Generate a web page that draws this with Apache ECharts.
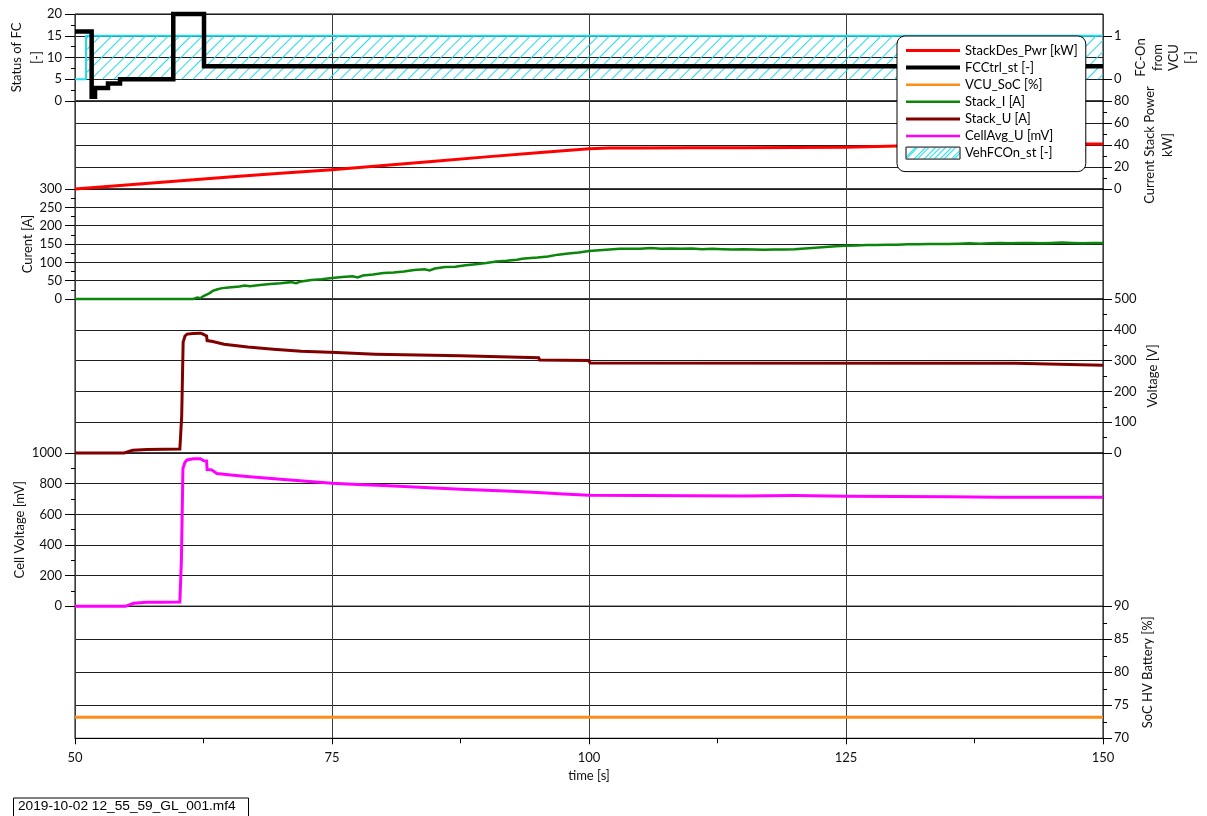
<!DOCTYPE html>
<html><head><meta charset="utf-8">
<script src="https://cdn.jsdelivr.net/npm/echarts@6/dist/echarts.min.js"></script>
<style>html,body{margin:0;padding:0;background:#fff}#c{width:1207px;height:816px}</style>
</head><body><div id="c"></div>
<script>
// ---------------- data ----------------
const timeRange = [50, 150];
const timeTicks = [50, 75, 100, 125, 150];

const fcTime = [50, 51.62, 51.95, 53.21, 54.38, 59.56, 62.55, 150];
const fcVal  = [16, 1, 3, 4, 5, 20, 8, 8];

const vehTime = [50, 51.07, 150];
const vehVal  = [0, 1, 1];

const pwrTime = [50, 55, 60, 65, 70, 75, 80, 85, 90, 95, 100, 102, 105, 110, 115, 120, 125, 130, 135, 140, 145, 150];
const pwrVal  = [0, 3.6, 7.3, 10.9, 14.4, 17.6, 21.4, 25.2, 29.2, 33.0, 36.6, 37.2, 37.3, 37.4, 37.5, 37.7, 38.0, 39.0, 39.8, 40.4, 40.8, 41.0];

const curTime = [50, 61.5, 61.9, 62.2, 62.5, 62.8, 63.1, 63.4, 63.8, 64.2, 64.7, 65.2, 66, 66.5, 67, 68, 69, 70, 71, 71.5, 72, 73, 74, 75, 76, 77, 77.5, 78, 79, 80, 81, 82, 83, 84, 84.5, 85, 86, 87, 88, 89, 90, 91, 92, 93, 93.5, 94, 95, 96, 97, 98, 99, 100, 101, 102, 103, 104, 105, 106, 107, 108, 109, 110, 111, 112, 113, 114, 115, 116, 117, 118, 119, 120, 121, 122, 123, 124, 125, 126, 127, 128, 129, 130, 131, 132, 133, 134, 135, 136, 137, 138, 139, 140, 141, 142, 143, 144, 145, 146, 147, 148, 149, 150];
const curVal  = [0, 0, 4, 2, 8, 12, 16, 22, 26, 29, 31, 32, 34, 37, 35, 38, 41, 43, 46, 43, 48, 52, 54, 57, 60, 62, 59, 64, 67, 71, 72, 75, 79, 81, 78, 83, 87, 88, 92, 95, 98, 102, 104, 107, 110, 111, 113, 116, 121, 124, 127, 131, 133, 135, 137, 137, 137, 139, 137, 138, 137, 138, 136, 137, 136, 135, 136, 135, 134, 135, 135, 136, 138, 140, 142, 144, 145, 146, 147, 147, 148, 148, 149, 149, 150, 150, 150, 151, 152, 151, 152, 153, 152, 153, 153, 152, 153, 154, 153, 152, 153, 153];

const uTime = [50, 54.8, 55.6, 57.0, 60.2, 60.38, 60.52, 60.7, 60.9, 61.5, 62.2, 62.4, 62.5, 62.8, 62.85, 63.4, 63.5, 64.5, 64.6, 66.8, 66.9, 69.3, 69.4, 72.0, 72.1, 75.4, 75.5, 79.2, 79.3, 87.5, 87.6, 95.1, 95.2, 100.0, 100.1, 141.5, 141.6, 150];
const uVal  = [0, 0, 9, 11, 13, 120, 360, 380, 386, 388, 389, 387, 382, 380, 365, 362, 356, 353, 347, 344, 339, 337, 331, 330, 327, 326, 322, 321, 318, 316, 311, 309, 302, 300, 292, 291, 285, 285];

const cellTime = [50, 54.9, 55.7, 57.0, 58.5, 60.2, 60.35, 60.5, 60.7, 60.9, 61.5, 62.2, 62.5, 62.8, 62.85, 63.3, 63.8, 65.4, 67, 70, 72.5, 75, 77.5, 80, 82.5, 85, 87.5, 90, 92.5, 95, 97.5, 100, 105, 110, 115, 120, 125, 130, 135, 140, 145, 150];
const cellVal  = [0, 0, 20, 26, 27, 28, 300, 900, 940, 955, 962, 963, 950, 948, 892, 890, 866, 855, 845, 828, 815, 803, 795, 788, 780, 772, 764, 757, 750, 742, 733, 725, 722, 721, 720, 722, 718, 716, 714, 712, 711, 712];

const socTime = [50, 100, 150];
const socVal  = [73.2, 73.2, 73.2];

const seriesNames = ['StackDes_Pwr [kW]', 'FCCtrl_st [-]', 'VCU_SoC [%]', 'Stack_I [A]', 'Stack_U [A]', 'CellAvg_U [mV]', 'VehFCOn_st [-]'];
const fcOnLabels = [0, 1];
const footerText = '2019-10-02 12_55_59_GL_001.mf4';

// ---------------- helpers ----------------
const pairs = (t, v) => t.map((x, i) => [x, v[i]]);
const FONT = 'Lato';
const AXC = '#000';
const CYAN = '#1fdcee';
const seriesColors = ['#ff0000', '#000000', '#ff8c1a', '#0a860a', '#800000', '#ff00ff', CYAN];
const legendWidths = [3, 4, 2.5, 2.5, 3, 2.5, 1];

const hatchDecal = {
  symbol: 'rect', symbolSize: 1, symbolKeepAspect: false,
  color: CYAN, backgroundColor: 'rgba(255,255,255,0)',
  dashArrayX: [1, 0], dashArrayY: [1, 6.5], rotation: -Math.PI / 4
};

const svgHatch = 'data:image/svg+xml;utf8,' + encodeURIComponent(
  '<svg xmlns="http://www.w3.org/2000/svg" width="10" height="10">' +
  '<path d="M0 10 L10 0 M-2 2 L2 -2 M8 12 L12 8" stroke="' + CYAN + '" stroke-width="1.2"/></svg>');

const bands = [
  { top: 14, height: 87 },
  { top: 101, height: 88 },
  { top: 189, height: 110 },
  { top: 299, height: 154 },
  { top: 453, height: 153.3 },
  { top: 606.3, height: 132 }
];

const grid = bands.map(b => ({
  left: 75, right: 104, top: b.top, height: b.height,
  show: true, borderColor: '#000', borderWidth: 1, backgroundColor: 'transparent',
  containLabel: false, outerBoundsMode: 'none'
}));

const xAxis = bands.map((b, i) => {
  const last = i === bands.length - 1;
  return {
    type: 'value', gridIndex: i, min: timeRange[0], max: timeRange[1], interval: 25,
    axisLine: { show: last, lineStyle: { color: AXC, width: 1 } },
    axisTick: { show: last, length: 6, lineStyle: { color: AXC } },
    minorTick: { show: last, splitNumber: 2, length: 5, lineStyle: { color: AXC } },
    axisLabel: { show: last, margin: 13, fontFamily: FONT, fontSize: 13, color: '#111',
      customValues: timeTicks },
    splitLine: { show: true, lineStyle: { color: '#3c3c3c', width: 1 } },
    minorSplitLine: { show: false },
    name: last ? 'time [s]' : '', nameLocation: 'middle', nameGap: 31,
    nameTextStyle: { fontFamily: FONT, fontSize: 13, color: '#111' }
  };
});

function yAx(o) {
  return Object.assign({
    type: 'value', position: 'left', nameLocation: 'middle', nameRotate: 90,
    nameMoveOverlap: false,
    axisLine: { show: false },
    axisTick: { show: true, length: 10, lineStyle: { color: AXC } },
    minorTick: { show: true, splitNumber: 2, length: 4, lineStyle: { color: AXC } },
    axisLabel: { margin: 13, fontFamily: FONT, fontSize: 13, color: '#111', showMinLabel: true, showMaxLabel: true,
      formatter: v => String(v) },
    splitLine: { show: true, lineStyle: { color: '#1e1e1e', width: 1 } },
    minorSplitLine: { show: false },
    nameTextStyle: { fontFamily: FONT, fontSize: 13, color: '#111' }
  }, o);
}
const rightLabel = { margin: 11, fontFamily: FONT, fontSize: 13, color: '#111', formatter: v => String(v) };
const rightTick = { show: true, length: 9, lineStyle: { color: AXC } };

const yAxis = [
  yAx({ gridIndex: 0, position: 'left', min: 0, max: 20, interval: 5,
        name: 'Status of FC\n[-]', nameGap: 28.5, nameTextStyle: { fontFamily: FONT, fontSize: 13, color: '#111', lineHeight: 20 } }),
  yAx({ gridIndex: 0, position: 'right', min: -0.5, max: 1.5, interval: 0.5,
        axisTick: { show: true, length: 9, lineStyle: { color: AXC }, customValues: fcOnLabels },
        minorTick: { show: false },
        axisLabel: Object.assign({}, rightLabel, { customValues: fcOnLabels }),
        splitLine: { show: false },
        name: 'FC-On\nfrom\nVCU\n[-]', nameGap: 30, nameTextStyle: { fontFamily: FONT, fontSize: 13, color: '#111', lineHeight: 16.5 } }),
  yAx({ gridIndex: 1, position: 'right', min: 0, max: 80, interval: 20,
        axisTick: rightTick, axisLabel: rightLabel,
        name: 'Current Stack Power\nkW]', nameGap: 38, nameTextStyle: { fontFamily: FONT, fontSize: 13, color: '#111', lineHeight: 18 } }),
  yAx({ gridIndex: 2, position: 'left', min: 0, max: 300, interval: 50,
        name: 'Curent [A]', nameGap: 41 }),
  yAx({ gridIndex: 3, position: 'right', min: 0, max: 500, interval: 100,
        axisTick: rightTick, axisLabel: rightLabel,
        name: 'Voltage [V]', nameGap: 43 }),
  yAx({ gridIndex: 4, position: 'left', min: 0, max: 1000, interval: 200,
        name: 'Cell Voltage [mV]', nameGap: 49 }),
  yAx({ gridIndex: 5, position: 'right', min: 70, max: 90, interval: 5,
        axisTick: rightTick, axisLabel: rightLabel,
        name: 'SoC HV Battery [%]', nameGap: 38 })
];

function line(name, xi, yi, data, color, width, extra) {
  return Object.assign({
    name, type: 'line', xAxisIndex: xi, yAxisIndex: yi, data,
    showSymbol: false, symbol: 'none', clip: false, animation: false,
    lineStyle: { color, width, join: 'miter' }, itemStyle: { color }, z: 3
  }, extra || {});
}

const series = [
  line(seriesNames[0], 1, 2, pairs(pwrTime, pwrVal), seriesColors[0], 3),
  line(seriesNames[1], 0, 0, pairs(fcTime, fcVal), seriesColors[1], 4.5, { step: 'end', z: 5 }),
  line(seriesNames[2], 5, 6, pairs(socTime, socVal), seriesColors[2], 3),
  line(seriesNames[3], 2, 3, pairs(curTime, curVal), seriesColors[3], 2.5),
  line(seriesNames[4], 3, 4, pairs(uTime, uVal), seriesColors[4], 3),
  line(seriesNames[5], 4, 5, pairs(cellTime, cellVal), seriesColors[5], 3),
  line(seriesNames[6], 0, 1, pairs(vehTime, vehVal), seriesColors[6], 2, {
    step: 'end', z: 2,
    itemStyle: { color: CYAN, decal: hatchDecal },
    lineStyle: { color: CYAN, width: 2, decal: hatchDecal },
    areaStyle: { color: 'rgba(255,255,255,0)', opacity: 1 }
  })
];

const legendData = seriesNames.map((n, i) => {
  if (i === 6) {
    return { name: n, icon: 'rect',
      itemStyle: { color: { image: svgHatch, repeat: 'repeat' }, borderColor: '#555', borderWidth: 1, opacity: 1 } };
  }
  return { name: n, lineStyle: { width: legendWidths[i], color: seriesColors[i] } };
});

const option = {
  animation: false,
  backgroundColor: '#fff',
  grid, xAxis, yAxis, series,
  legend: {
    orient: 'vertical', left: 897, top: 36,
    padding: [8, 8, 12, 7], itemWidth: 54, itemHeight: 12, itemGap: 4.1,
    backgroundColor: '#fff', borderColor: '#000', borderWidth: 1, borderRadius: 8,
    itemStyle: { opacity: 0 },
    textStyle: { fontFamily: FONT, fontSize: 13, color: '#000' },
    data: legendData, selectedMode: false, z: 20
  },
  graphic: [
    { type: 'rect', left: 13, top: 797.5, shape: { width: 235, height: 22 },
      style: { fill: '#fff', stroke: '#000', lineWidth: 1 }, z: 10 },
    { type: 'text', left: 18, top: 799, z: 11,
      style: { text: footerText, font: '13.7px "Liberation Sans", Arial, sans-serif', fill: '#000' } }
  ]
};

const chart = echarts.init(document.getElementById('c'), null, { renderer: 'canvas' });
chart.setOption(option);
</script></body></html>
